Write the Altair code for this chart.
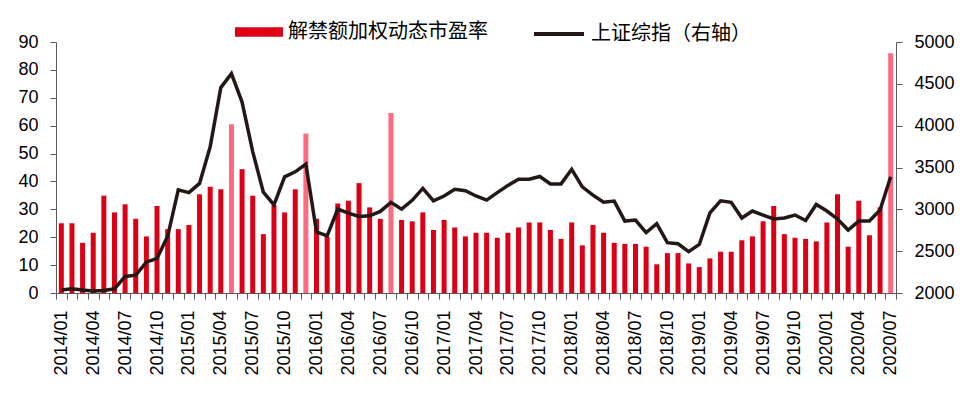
import altair as alt
import pandas as pd

years = [2014, 2015, 2016, 2017, 2018, 2019, 2020]
months = [f"{y}/{m:02d}" for y in years for m in range(1, 13)][:79]

pe = [
    25.0, 25.0, 18.0, 21.6, 34.9, 28.9, 31.8, 26.6, 20.3, 31.2, 22.9, 22.9,
    24.4, 35.4, 38.1, 37.2, 60.5, 44.4, 34.9, 21.1, 31.5, 28.9, 37.2, 57.2,
    26.6, 20.2, 32.1, 33.1, 39.4, 30.7, 26.6, 64.5, 26.2, 25.7, 28.9, 22.6,
    26.2, 23.5, 20.3, 21.6, 21.6, 19.8, 21.6, 23.5, 25.3, 25.3, 22.6, 19.4,
    25.3, 17.1, 24.4, 21.6, 18.0, 17.6, 17.6, 16.6, 10.3, 14.3, 14.3, 10.6,
    9.3, 12.4, 14.8, 14.8, 18.9, 20.3, 25.7, 31.2, 21.1, 19.8, 19.4, 18.5,
    25.3, 35.4, 16.6, 33.1, 20.7, 30.7, 86.0,
]

sh = [
    2036, 2052, 2036, 2024, 2030, 2050, 2198, 2213, 2368, 2414, 2678, 3232,
    3200, 3310, 3748, 4455, 4622, 4282, 3690, 3205, 3053, 3388, 3448, 3540,
    2730, 2684, 3004, 2955, 2914, 2922, 2975, 3084, 3002, 3108, 3250, 3102,
    3159, 3239, 3223, 3160, 3110, 3199, 3286, 3360, 3360, 3393, 3304, 3304,
    3478, 3268, 3170, 3084, 3098, 2860, 2872, 2722, 2828, 2602, 2588, 2494,
    2580, 2958, 3102, 3084, 2896, 2980, 2932, 2885, 2896, 2932, 2866, 3058,
    2980, 2885, 2752, 2860, 2860, 2992, 3390,
]

highlight = ["2015/05", "2015/12", "2016/08", "2020/07"]

name_bar = "解禁额加权动态市盈率"
name_line = "上证综指（右轴）"

df = pd.DataFrame({
    "month": months,
    "pe": pe,
    "sh": sh,
    "hl": [1 if m in highlight else 0 for m in months],
    "s1": name_bar,
    "s2": name_line,
})

RED = "#DC0016"
PINK = "#FF6A80"
AX = "#595959"
FONT = "Liberation Sans"
CJK = "Noto Sans CJK SC"

x = alt.X(
    "month:N",
    sort=months,
    scale=alt.Scale(paddingInner=0, paddingOuter=0),
    axis=alt.Axis(
        title=None,
        labelAngle=270,
        labelFont=FONT,
        labelFontSize=18,
        labelColor="black",
        labelPadding=11,
        tickSize=6,
        tickBand="extent",
        tickColor=AX,
        domainColor=AX,
        labelOverlap=False,
        labelExpr="(toNumber(substring(datum.value, 5, 7)) - 1) % 3 == 0 ? datum.value : ''",
    ),
)

bars = alt.Chart(df).mark_bar(size=5).encode(
    x=x,
    y=alt.Y(
        "pe:Q",
        scale=alt.Scale(domain=[0, 90], nice=False),
        axis=alt.Axis(
            title=None,
            values=list(range(0, 91, 10)),
            grid=False,
            tickSize=6,
            labelPadding=12,
            labelFont=FONT,
            labelFontSize=18,
            labelColor="black",
            tickColor=AX,
            domainColor=AX,
        ),
    ),
    color=alt.condition(
        alt.datum.hl == 1,
        alt.value(PINK),
        alt.Color(
            "s1:N",
            scale=alt.Scale(domain=[name_bar], range=[RED]),
            legend=alt.Legend(
                title=None,
                orient="none",
                legendX=179,
                legendY=-34,
                padding=0,
                symbolType="M-1,-0.2H1V0.2H-1Z",
                symbolSize=2304,
                symbolStrokeWidth=0,
                symbolOpacity=1,
                labelOffset=5,
                labelLimit=400,
                labelFont=CJK,
                labelFontSize=20,
                labelColor="black",
            ),
        ),
    ),
)

line = alt.Chart(df).mark_line(strokeWidth=3.5).encode(
    x=x,
    y=alt.Y(
        "sh:Q",
        scale=alt.Scale(domain=[2000, 5000], nice=False),
        axis=alt.Axis(
            title=None,
            orient="right",
            values=list(range(2000, 5001, 500)),
            format="d",
            grid=False,
            tickSize=6,
            labelPadding=12,
            labelFont=FONT,
            labelFontSize=18,
            labelColor="black",
            tickColor=AX,
            domainColor=AX,
        ),
    ),
    stroke=alt.Stroke(
        "s2:N",
        scale=alt.Scale(domain=[name_line], range=["#231815"]),
        legend=alt.Legend(
            title=None,
            orient="none",
            legendX=476,
            legendY=-35,
            padding=0,
            symbolType="stroke",
            symbolSize=2500,
            symbolStrokeWidth=4,
            labelOffset=5,
            labelLimit=400,
            labelFont=CJK,
            labelFontSize=20,
            labelColor="black",
        ),
    ),
)

chart = (
    alt.layer(bars, line)
    .resolve_scale(y="independent")
    .properties(
        width=840,
        height=251,
        padding={"left": 48, "top": 34, "right": 73, "bottom": 90},
        autosize=alt.AutoSizeParams(type="none"),
        background="white",
    )
    .configure_view(strokeWidth=0)
)

chart.save("out.html", embed_options={"renderer": "svg", "actions": False})
